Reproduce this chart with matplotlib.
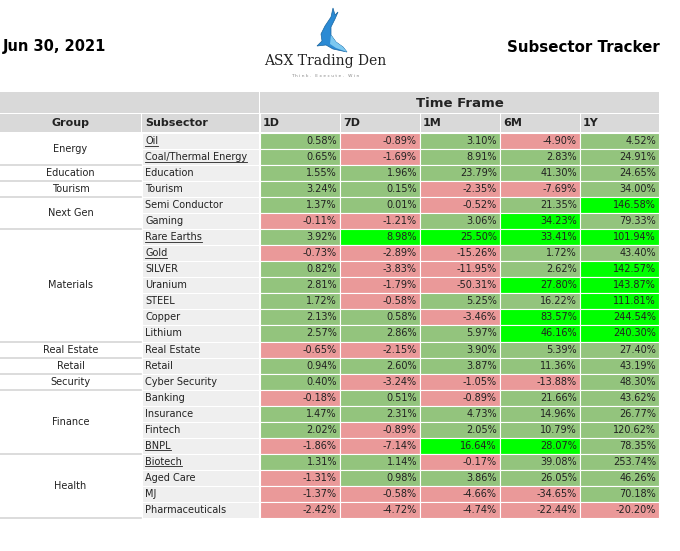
import matplotlib
matplotlib.use("Agg")
import matplotlib.pyplot as plt
from matplotlib.patches import Rectangle, Polygon

# data
date_label = "Jun 30, 2021"
title_label = "Subsector Tracker"
timeframes = ["1D", "7D", "1M", "6M", "1Y"]

groups = ["Energy", "Education", "Tourism", "Next Gen", "Materials", "Real Estate",
          "Retail", "Security", "Finance", "Health"]
group_sizes = [2, 1, 1, 2, 7, 1, 1, 1, 4, 4]

subsectors = ["Oil", "Coal/Thermal Energy", "Education", "Tourism", "Semi Conductor",
              "Gaming", "Rare Earths", "Gold", "SILVER", "Uranium", "STEEL", "Copper",
              "Lithium", "Real Estate", "Retail", "Cyber Security", "Banking",
              "Insurance", "Fintech", "BNPL", "Biotech", "Aged Care", "MJ",
              "Pharmaceuticals"]
underlined = ["Oil", "Coal/Thermal Energy", "Rare Earths", "Gold", "BNPL", "Biotech"]

ret_1d = [0.58, 0.65, 1.55, 3.24, 1.37, -0.11, 3.92, -0.73, 0.82, 2.81, 1.72, 2.13,
          2.57, -0.65, 0.94, 0.40, -0.18, 1.47, 2.02, -1.86, 1.31, -1.31, -1.37, -2.42]
ret_7d = [-0.89, -1.69, 1.96, 0.15, 0.01, -1.21, 8.98, -2.89, -3.83, -1.79, -0.58, 0.58,
          2.86, -2.15, 2.60, -3.24, 0.51, 2.31, -0.89, -7.14, 1.14, 0.98, -0.58, -4.72]
ret_1m = [3.10, 8.91, 23.79, -2.35, -0.52, 3.06, 25.50, -15.26, -11.95, -50.31, 5.25,
          -3.46, 5.97, 3.90, 3.87, -1.05, -0.89, 4.73, 2.05, 16.64, -0.17, 3.86, -4.66,
          -4.74]
ret_6m = [-4.90, 2.83, 41.30, -7.69, 21.35, 34.23, 33.41, 1.72, 2.62, 27.80, 16.22,
          83.57, 46.16, 5.39, 11.36, -13.88, 21.66, 14.96, 10.79, 28.07, 39.08, 26.05,
          -34.65, -22.44]
ret_1y = [4.52, 24.91, 24.65, 34.00, 146.58, 79.33, 101.94, 43.40, 142.57, 143.87,
          111.81, 244.54, 240.30, 27.40, 43.19, 48.30, 43.62, 26.77, 120.62, 78.35,
          253.74, 46.26, 70.18, -20.20]

# cells shown in bright green (subsector, timeframe)
highlights = [("Semi Conductor", "1Y"), ("Gaming", "6M"), ("Rare Earths", "7D"),
              ("Rare Earths", "1M"), ("Rare Earths", "6M"), ("Rare Earths", "1Y"),
              ("SILVER", "1Y"), ("Uranium", "6M"), ("Uranium", "1Y"), ("STEEL", "1Y"),
              ("Copper", "6M"), ("Copper", "1Y"), ("Lithium", "6M"), ("Lithium", "1Y"),
              ("BNPL", "1M"), ("BNPL", "6M")]

values = [ret_1d, ret_7d, ret_1m, ret_6m, ret_1y]

# layout (pixel units)
W, H = 680, 551
row_h = 16.04
top = 133
hdr1_top, hdr2_top = 92, 113
grp_x0, grp_x1 = 0, 141
sub_x0, sub_x1 = 142, 259
col_edges = [260, 340, 420, 500, 580, 659]

GREEN = "#93c47d"
RED = "#ea9999"
BRIGHT = "#00ff00"
HDR = "#d9d9d9"
SUBBG = "#efefef"
TXT = "#222222"

plt.rcParams['font.family'] = ['DejaVu Sans']
fig = plt.figure(figsize=(6.8, 5.51), dpi=100)
ax = fig.add_axes([0, 0, 1, 1])
ax.set_xlim(0, W)
ax.set_ylim(H, 0)
ax.axis("off")

fs = 7
# titles
ax.text(3, 47, date_label, fontsize=10.5, fontweight="bold", va="center", ha="left")
ax.text(660, 47, title_label, fontsize=10.8, fontweight="bold", va="center", ha="right")

# logo (shark + wordmark)
shark = Polygon([(333, 8), (331, 17), (325, 26), (321, 34), (322, 41), (317, 46),
                 (326, 45), (333, 49), (347, 52), (343, 47), (336, 42), (331, 35),
                 (331, 27), (335, 19), (338, 12), (335, 15)],
                closed=True, facecolor="#2b8ad4", edgecolor="#17649f", lw=0.5)
ax.add_patch(shark)
belly = Polygon([(331, 35), (336, 42), (343, 47), (347, 52), (336, 48), (330, 44)],
                closed=True, facecolor="#7cc8f0", lw=0)
ax.add_patch(belly)
ax.text(325, 61, "ASX Trading Den", fontsize=10, family="DejaVu Serif",
        ha="center", va="center", color="#222222")
ax.text(325, 76, "T h i n k .   E x e c u t e .   W i n", fontsize=3.2,
        ha="center", va="center", color="#888888")

# header row 1
ax.add_patch(Rectangle((0, hdr1_top), sub_x1 - 0, hdr2_top - hdr1_top, facecolor=HDR, lw=0))
ax.add_patch(Rectangle((col_edges[0], hdr1_top), col_edges[-1] - col_edges[0],
                       hdr2_top - hdr1_top, facecolor=HDR, lw=0))
ax.text((col_edges[0] + col_edges[-1]) / 2, (hdr1_top + hdr2_top) / 2 + 1, "Time Frame",
        fontsize=9.5, fontweight="bold", ha="center", va="center", color=TXT)

# header row 2
hy = hdr2_top + 1
hh = top - hdr2_top - 2
ax.add_patch(Rectangle((grp_x0, hy), grp_x1 - grp_x0, hh, facecolor=HDR, lw=0))
ax.add_patch(Rectangle((sub_x0, hy), sub_x1 - sub_x0, hh, facecolor=HDR, lw=0))
ax.text((grp_x0 + grp_x1) / 2, hy + hh / 2, "Group", fontsize=8, fontweight="bold",
        ha="center", va="center", color=TXT)
ax.text(sub_x0 + 3, hy + hh / 2, "Subsector", fontsize=8, fontweight="bold",
        ha="left", va="center", color=TXT)
for j, tf in enumerate(timeframes):
    x0 = col_edges[j] + 1
    ax.add_patch(Rectangle((x0, hy), col_edges[j + 1] - x0, hh, facecolor=HDR, lw=0))
    ax.text(x0 + 2, hy + hh / 2, tf, fontsize=8, fontweight="bold",
            ha="left", va="center", color=TXT)

# group column
r = 0
for g, n in zip(groups, group_sizes):
    y0 = top + r * row_h
    ax.text((grp_x0 + grp_x1) / 2, y0 + n * row_h / 2, g, fontsize=fs,
            ha="center", va="center", color=TXT)
    if r > 0:
        ax.plot([grp_x0, grp_x1], [y0, y0], color="#d6d6d6", lw=1.2)
    r += n
ax.plot([grp_x0, grp_x1], [top + r * row_h, top + r * row_h], color="#d6d6d6", lw=1.2)

# subsector column and value cells
hl = set(highlights)
under_texts = []
for i, name in enumerate(subsectors):
    y0 = top + i * row_h
    ax.add_patch(Rectangle((sub_x0, y0), sub_x1 - sub_x0, row_h, facecolor=SUBBG,
                           edgecolor="white", lw=0.8))
    t = ax.text(sub_x0 + 3, y0 + row_h / 2, name, fontsize=fs, ha="left",
                va="center", color=TXT)
    if name in underlined:
        under_texts.append(t)
    for j, tf in enumerate(timeframes):
        v = values[j][i]
        if (name, tf) in hl:
            c = BRIGHT
        elif v < 0:
            c = RED
        else:
            c = GREEN
        x0 = col_edges[j]
        ax.add_patch(Rectangle((x0, y0), col_edges[j + 1] - x0, row_h, facecolor=c,
                               edgecolor="white", lw=0.8))
        ax.text(col_edges[j + 1] - 3, y0 + row_h / 2, f"{v:.2f}%", fontsize=fs,
                ha="right", va="center", color=TXT)

# underline the linked subsectors
fig.canvas.draw()
inv = ax.transData.inverted()
for t in under_texts:
    bb = t.get_window_extent()
    (xa, ya), (xb, yb) = inv.transform([(bb.x0, bb.y0), (bb.x1, bb.y1)])
    ax.plot([xa, xb], [ya - 0.5, ya - 0.5], color=TXT, lw=0.6)

fig.savefig("out.png", dpi=100)
